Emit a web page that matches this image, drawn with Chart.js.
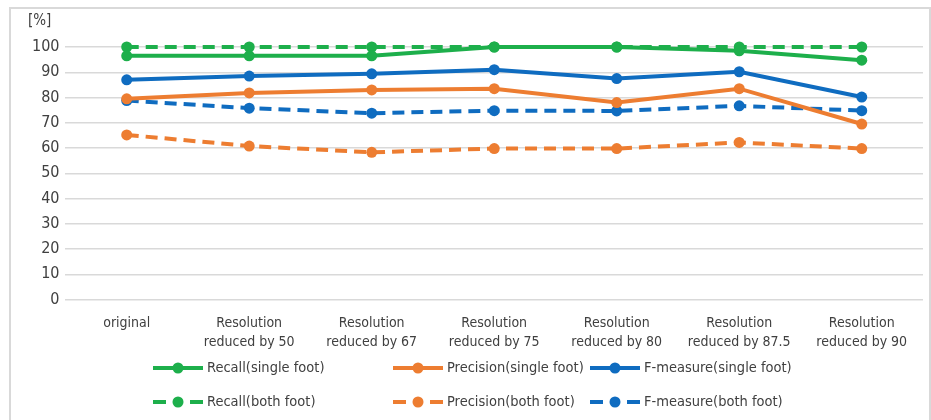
<!DOCTYPE html>
<html>
<head>
<meta charset="utf-8">
<script src="https://cdn.jsdelivr.net/npm/chart.js@4.4.1/dist/chart.umd.min.js"></script>
<style>
  html, body { margin: 0; padding: 0; background: #fff; }
  #wrap { position: relative; width: 931px; height: 420px; }
</style>
</head>
<body>
<div id="wrap"><canvas id="chart" width="931" height="420"></canvas></div>
<script>
// カテゴリとデータ
const categories = [
    'original',
    ['Resolution', 'reduced by 50'],
    ['Resolution', 'reduced by 67'],
    ['Resolution', 'reduced by 75'],
    ['Resolution', 'reduced by 80'],
    ['Resolution', 'reduced by 87.5'],
    ['Resolution', 'reduced by 90']
];
const recallSingle    = [96.5, 96.5, 96.5, 100, 100, 98.5, 94.8];
const precisionSingle = [79.5, 81.8, 83.0, 83.5, 78.0, 83.5, 69.5];
const fSingle         = [87.0, 88.5, 89.4, 91.0, 87.5, 90.2, 80.2];
const recallBoth      = [100, 100, 100, 100, 100, 100, 100];
const precisionBoth   = [65.2, 60.8, 58.3, 59.8, 59.8, 62.2, 59.8];
const fBoth           = [78.8, 75.8, 73.8, 74.8, 74.7, 76.7, 74.8];
const yTicks = [0, 10, 20, 30, 40, 50, 60, 70, 80, 90, 100];

const GREEN = '#1DAF4B';
const ORANGE = '#ED7D31';
const BLUE = '#0F6CC0';
const FONT = '"DejaVu Sans Condensed", "Liberation Sans Narrow", sans-serif';
const TEXT = '#404040';

function series(label, data, color, dashed) {
    return {
        label: label,
        data: data,
        borderColor: color,
        backgroundColor: color,
        pointBackgroundColor: color,
        pointBorderColor: color,
        borderWidth: 4,
        borderDash: dashed ? [12, 7] : [],
        pointRadius: 5.5,
        pointBorderWidth: 0,
        tension: 0,
        clip: false
    };
}

// 凡例は Excel 風に 2 行 3 列で描く
const legendPlugin = {
    id: 'gridLegend',
    afterDraw(chart) {
        const ctx = chart.ctx;
        const cols = [153, 393, 590];
        const rows = [368, 402];
        ctx.save();
        ctx.font = '14.5px ' + FONT;
        ctx.textBaseline = 'middle';
        chart.data.datasets.forEach((ds, i) => {
            const x = cols[i % 3];
            const y = rows[Math.floor(i / 3)];
            ctx.strokeStyle = ds.borderColor;
            ctx.lineWidth = 4;
            ctx.beginPath();
            if (ds.borderDash.length) {
                ctx.moveTo(x, y);
                ctx.lineTo(x + 13, y);
                ctx.moveTo(x + 37, y);
                ctx.lineTo(x + 50, y);
            } else {
                ctx.moveTo(x, y);
                ctx.lineTo(x + 50, y);
            }
            ctx.stroke();
            ctx.fillStyle = ds.borderColor;
            ctx.beginPath();
            ctx.arc(x + 25, y, 5.5, 0, Math.PI * 2);
            ctx.fill();
            ctx.fillStyle = TEXT;
            ctx.fillText(ds.label, x + 54, y);
        });
        // [%] ラベルと外枠
        ctx.font = '15px ' + FONT;
        ctx.textAlign = 'left';
        ctx.fillStyle = TEXT;
        ctx.fillText('[%]', 28, 21);
        ctx.strokeStyle = '#d9d9d9';
        ctx.lineWidth = 2;
        ctx.beginPath();
        ctx.moveTo(10, 420);
        ctx.lineTo(10, 8);
        ctx.lineTo(930, 8);
        ctx.lineTo(930, 420);
        ctx.stroke();
        ctx.restore();
    }
};

const ctx = document.getElementById('chart').getContext('2d');
new Chart(ctx, {
    type: 'line',
    data: {
        labels: categories,
        datasets: [
            series('Recall(single foot)', recallSingle, GREEN, false),
            series('Precision(single foot)', precisionSingle, ORANGE, false),
            series('F-measure(single foot)', fSingle, BLUE, false),
            series('Recall(both foot)', recallBoth, GREEN, true),
            series('Precision(both foot)', precisionBoth, ORANGE, true),
            series('F-measure(both foot)', fBoth, BLUE, true)
        ]
    },
    options: {
        responsive: false,
        animation: false,
        layout: {
            padding: { top: 47, left: 26, right: 8, bottom: 62 }
        },
        plugins: {
            legend: { display: false },
            tooltip: { enabled: false }
        },
        scales: {
            x: {
                offset: true,
                grid: { display: false },
                border: { display: false },
                ticks: {
                    color: TEXT,
                    font: { family: FONT, size: 14, lineHeight: 1.3 },
                    padding: 7,
                    maxRotation: 0,
                    autoSkip: false
                }
            },
            y: {
                min: 0,
                max: 100,
                afterBuildTicks(axis) {
                    axis.ticks = yTicks.map(v => ({ value: v }));
                },
                grid: { color: '#d9d9d9', lineWidth: 1.5, drawTicks: false },
                border: { display: false },
                ticks: {
                    color: TEXT,
                    font: { family: FONT, size: 16 },
                    padding: 6
                }
            }
        }
    },
    plugins: [legendPlugin]
});
</script>
</body>
</html>
